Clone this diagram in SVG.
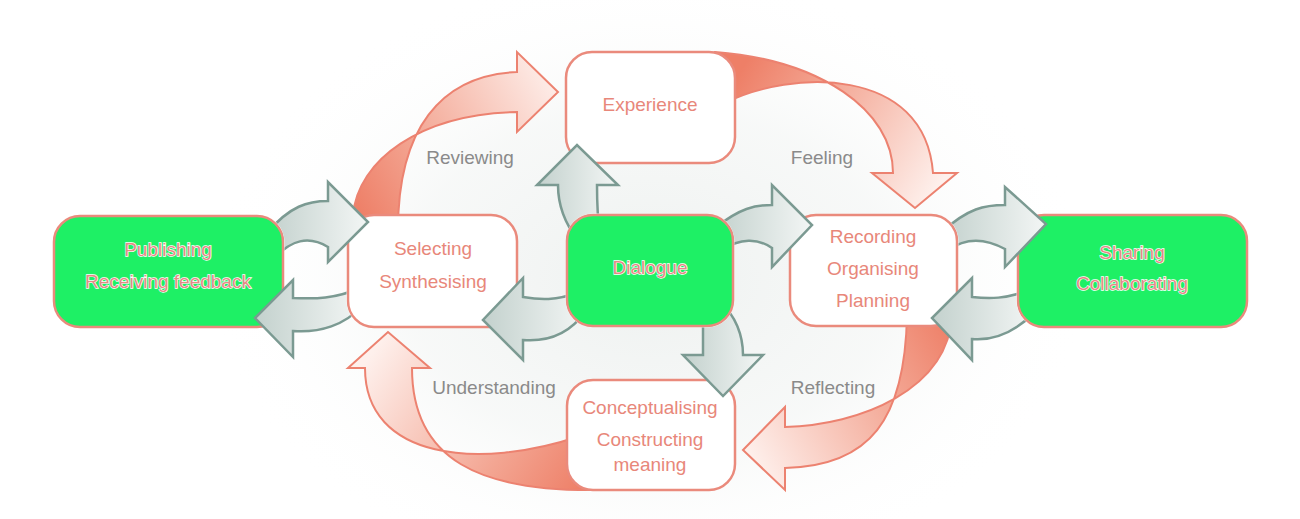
<svg xmlns="http://www.w3.org/2000/svg" width="1300" height="519" viewBox="0 0 1300 519">
<defs>
<style>
.box{fill:#ffffff;stroke:#EA8A7C;stroke-width:2.5}
.gbox{fill:#1EF065;stroke:#EA8A7C;stroke-width:2.5}
.t{font-family:"Liberation Sans",Arial,sans-serif;font-size:19px;fill:#E8877A;text-anchor:middle}
.gt{font-family:"Liberation Sans",Arial,sans-serif;font-size:19px;fill:#E58A86;stroke:#ffffff;stroke-width:1.3;paint-order:stroke;text-anchor:middle}
.lbl{font-family:"Liberation Sans",Arial,sans-serif;font-size:19px;fill:#8A8A8A;text-anchor:middle}
.red{stroke:#EC8270;stroke-width:2;stroke-linejoin:miter}
.grey{fill:url(#gg);stroke:#7B9A92;stroke-width:2.5;stroke-linejoin:miter}
</style>
<radialGradient id="bg">
<stop offset="0" stop-color="#E3E8E6" stop-opacity="0.6"/>
<stop offset="0.55" stop-color="#E9EDEB" stop-opacity="0.35"/>
<stop offset="1" stop-color="#ffffff" stop-opacity="0"/>
</radialGradient>
<linearGradient id="gg" x1="0" y1="0" x2="1" y2="0">
<stop offset="0" stop-color="#C3D1CD"/>
<stop offset="1" stop-color="#F3F6F5"/>
</linearGradient>
<linearGradient id="r1" gradientUnits="userSpaceOnUse" x1="350" y1="200" x2="560" y2="80">
<stop offset="0" stop-color="#EE7F67"/><stop offset="0.35" stop-color="#F3A592"/><stop offset="1" stop-color="#FEF0EC"/>
</linearGradient>
<linearGradient id="r2" gradientUnits="userSpaceOnUse" x1="735" y1="80" x2="930" y2="200">
<stop offset="0" stop-color="#EE7F67"/><stop offset="0.35" stop-color="#F3A592"/><stop offset="1" stop-color="#FEF0EC"/>
</linearGradient>
<linearGradient id="r3" gradientUnits="userSpaceOnUse" x1="955" y1="330" x2="745" y2="450">
<stop offset="0" stop-color="#EE7F67"/><stop offset="0.35" stop-color="#F3A592"/><stop offset="1" stop-color="#FEF0EC"/>
</linearGradient>
<linearGradient id="r4" gradientUnits="userSpaceOnUse" x1="590" y1="480" x2="380" y2="340">
<stop offset="0" stop-color="#EE7F67"/><stop offset="0.35" stop-color="#F3A592"/><stop offset="1" stop-color="#FEF0EC"/>
</linearGradient>
<mask id="mPub" maskUnits="userSpaceOnUse" x="0" y="0" width="1300" height="519">
<rect width="1300" height="519" fill="#fff"/><rect x="52.5" y="214.5" width="232" height="114" rx="27.5" fill="#000"/>
</mask>
<mask id="mSel" maskUnits="userSpaceOnUse" x="0" y="0" width="1300" height="519">
<rect width="1300" height="519" fill="#fff"/><rect x="346.5" y="213.5" width="172" height="115" rx="27.5" fill="#000"/>
</mask>
<mask id="mDia" maskUnits="userSpaceOnUse" x="0" y="0" width="1300" height="519">
<rect width="1300" height="519" fill="#fff"/><rect x="565.5" y="213.5" width="169" height="114" rx="27.5" fill="#000"/>
</mask>
<mask id="mRec" maskUnits="userSpaceOnUse" x="0" y="0" width="1300" height="519">
<rect width="1300" height="519" fill="#fff"/><rect x="788.5" y="213.5" width="170" height="114" rx="27.5" fill="#000"/>
</mask>
<mask id="mSha" maskUnits="userSpaceOnUse" x="0" y="0" width="1300" height="519">
<rect width="1300" height="519" fill="#fff"/><rect x="1016.5" y="213.5" width="232" height="115" rx="27.5" fill="#000"/>
</mask>
</defs>
<rect width="1300" height="519" fill="#ffffff"/>
<ellipse cx="650" cy="280" rx="440" ry="310" fill="url(#bg)"/>

<g id="cycle-connectors">
<path class="red" fill="url(#r1)" d="M353,215 C358,160 420,114 517,112 L517,132 L558,92 L517,52 L517,72 C440,75 398,130 398,230 L360,230 Z"/>
<path class="red" fill="url(#r2)" d="M725,103 C790,70 925,65 933,173 L957,173 L915,208 L872,173 L893,173 C893,110 820,60 715,52 Z"/>
<path class="red" fill="url(#r3)" d="M907,315 C905,420 870,466 785,468 L785,490 L743,450 L785,407 L785,427 C860,425 948,390 952,315 Z"/>
<path class="red" fill="url(#r4)" d="M580,436 C480,470 365,460 365,368 L348,368 L388,332 L430,368 L412,368 C412,460 480,492 600,490 Z"/>
</g>

<g id="node-publishing">
<rect class="gbox" x="54" y="216" width="229" height="111" rx="26"/>
<text class="gt" x="168" y="256">Publishing</text>
<text class="gt" x="168" y="288">Receiving feedback</text>
</g>
<g id="node-selecting">
<rect class="box" x="348" y="215" width="169" height="112" rx="26"/>
<text class="t" x="433" y="255">Selecting</text>
<text class="t" x="433" y="288">Synthesising</text>
</g>
<g id="node-experience">
<rect class="box" x="566" y="52" width="169" height="111" rx="26"/>
<text class="t" x="650" y="111">Experience</text>
</g>
<g id="node-dialogue">
<rect class="gbox" x="567" y="215" width="166" height="111" rx="26"/>
<text class="gt" x="650" y="274">Dialogue</text>
</g>
<g id="node-recording">
<rect class="box" x="790" y="215" width="167" height="111" rx="26"/>
<text class="t" x="873" y="243">Recording</text>
<text class="t" x="873" y="275">Organising</text>
<text class="t" x="873" y="307">Planning</text>
</g>
<g id="node-sharing">
<rect class="gbox" x="1018" y="215" width="229" height="112" rx="26"/>
<text class="gt" x="1132" y="259">Sharing</text>
<text class="gt" x="1132" y="290">Collaborating</text>
</g>
<g id="node-conceptualising">
<rect class="box" x="567" y="380" width="168" height="110" rx="26"/>
<text class="t" x="650" y="414">Conceptualising</text>
<text class="t" x="650" y="446">Constructing</text>
<text class="t" x="650" y="471">meaning</text>
</g>

<g id="dialogue-connectors">
<path class="grey" mask="url(#mPub)" d="M268,232 C290,206 308,201 328,201 L328,182 L368,222 L328,262 L328,247 C310,236 290,238 272,262 Z"/>
<path class="grey" mask="url(#mSel)" d="M360,288 C335,299 315,299 293,298 L293,280 L255,318 L293,357 L293,331 C320,333 345,325 362,306 Z"/>
<path class="grey" mask="url(#mDia)" d="M578,240 C562,220 558,200 558,185 L537,185 L577,145 L618,185 L597,185 C597,200 597,215 600,235 Z"/>
<path class="grey" mask="url(#mDia)" d="M580,292 C555,301 540,300 523,297 L523,278 L483,320 L523,360 L523,340 C548,342 570,333 585,312 Z"/>
<path class="grey" mask="url(#mDia)" d="M715,228 C740,208 755,205 772,205 L772,185 L812,225 L772,267 L772,248 C758,238 740,238 722,250 Z"/>
<path class="grey" mask="url(#mDia)" d="M703,315 L703,355 L683,355 L723,396 L763,355 L743,355 C743,335 735,315 722,305 Z"/>
<path class="grey" mask="url(#mRec)" d="M942,232 C968,208 985,205 1005,205 L1005,187 L1046,224 L1005,267 L1005,249 C985,238 965,238 948,250 Z"/>
<path class="grey" mask="url(#mSha)" d="M1030,290 C1005,299 990,299 972,297 L972,278 L932,318 L972,360 L972,339 C995,341 1015,332 1035,312 Z"/>
</g>

<g id="labels">
<text class="lbl" x="470" y="164">Reviewing</text>
<text class="lbl" x="822" y="164">Feeling</text>
<text class="lbl" x="494" y="394">Understanding</text>
<text class="lbl" x="833" y="394">Reflecting</text>
</g>
</svg>
